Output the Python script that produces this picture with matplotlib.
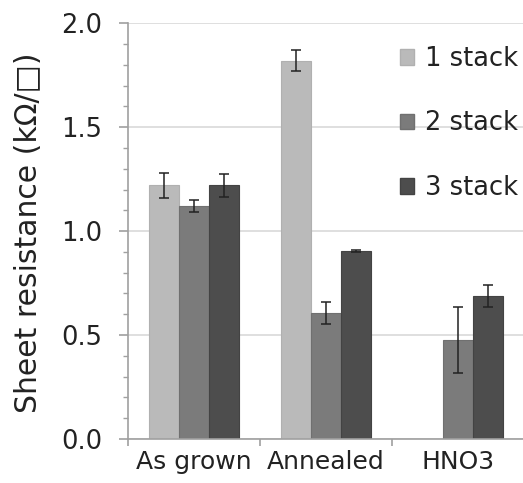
import matplotlib
matplotlib.use("Agg")
import matplotlib.pyplot as plt
import numpy as np
from matplotlib.patches import Patch

categories = ["As grown", "Annealed", "HNO3"]
series = ["1 stack", "2 stack", "3 stack"]
values = {
    "1 stack": [1.22, 1.82, np.nan],
    "2 stack": [1.12, 0.605, 0.477],
    "3 stack": [1.22, 0.905, 0.69],
}
errors = {
    "1 stack": [0.06, 0.05, np.nan],
    "2 stack": [0.03, 0.053, 0.16],
    "3 stack": [0.055, 0.005, 0.053],
}
colors = ["#bababa", "#7b7b7b", "#4d4d4d"]
edges = ["#b0b0b0", "#707070", "#434343"]

plt.rcParams['font.family'] = ['DejaVu Sans']
fig = plt.figure(figsize=(5.23, 4.83), dpi=100)
ax = fig.add_axes([0.2447, 0.0911, 0.757, 0.8607])

x = np.arange(len(categories))
w = 0.226
for i, s in enumerate(series):
    ax.bar(x + (i - 1) * w, values[s], width=w, color=colors[i],
           edgecolor=edges[i], linewidth=0.8, zorder=2)
    ax.errorbar(x + (i - 1) * w, values[s], yerr=errors[s], fmt='none',
                ecolor='#222222', elinewidth=1.1, capsize=3.5, capthick=1.1, zorder=3)

ax.set_xlim(-0.5, 2.5)
ax.set_ylim(0, 2.0)
ax.set_yticks([0, 0.5, 1.0, 1.5, 2.0])
ax.set_yticklabels(["0.0", "0.5", "1.0", "1.5", "2.0"])
ax.set_yticks(np.arange(0, 2.01, 0.1), minor=True)
ax.yaxis.grid(True, which='major', color='#d9d9d9', linewidth=1.2, zorder=0)
ax.set_axisbelow(True)

ax.set_xticks(x)
ax.set_xticklabels(categories)
ax.set_xticks([-0.5, 0.5, 1.5, 2.5], minor=True)
ax.tick_params(axis='x', which='major', length=0, pad=8, labelsize=18, labelcolor='#222222')
ax.tick_params(axis='x', which='minor', length=5, width=1.2, color='#a0a0a0', direction='out')
ax.tick_params(axis='y', which='major', length=6.5, width=1.2, color='#a0a0a0', pad=12,
               labelsize=18.5, labelcolor='#222222')
ax.tick_params(axis='y', which='minor', length=3.6, width=1.0, color='#a0a0a0')

for sp in ['top', 'right']:
    ax.spines[sp].set_visible(False)
for sp in ['left', 'bottom']:
    ax.spines[sp].set_color('#a0a0a0')
    ax.spines[sp].set_linewidth(1.2)

ax.set_ylabel("Sheet resistance (k\u03a9/\u25a1)", fontsize=21.5, color='#222222')
ax.yaxis.set_label_coords(-0.215, 0.497)

handles = [Patch(facecolor=colors[i], edgecolor=edges[i]) for i in range(3)]
leg = fig.legend(handles, series, loc='upper left', bbox_to_anchor=(0.765, 0.905),
                 frameon=False, fontsize=18.5, handlelength=0.55, handleheight=0.55,
                 handletextpad=0.4, labelspacing=1.5, borderpad=0, borderaxespad=0)
for t in leg.get_texts():
    t.set_color('#222222')

fig.savefig("out.png", dpi=100)
